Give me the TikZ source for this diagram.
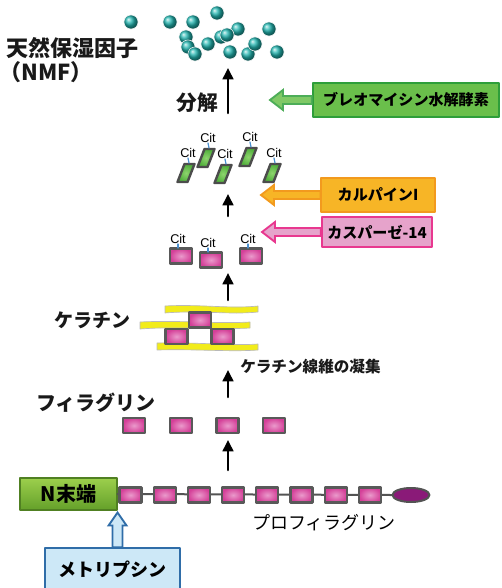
\documentclass[tikz,border=0pt]{standalone}
\usepackage{fontspec}
\setmainfont{Noto Sans CJK JP}
\newfontfamily\citfont{Liberation Sans}
\usetikzlibrary{arrows.meta,calc,shapes.geometric}

\definecolor{nmfteal}{HTML}{22B5B0}
\definecolor{sqout}{HTML}{D43F98}
\definecolor{sqin}{HTML}{EA9ACB}
\definecolor{chipgreen}{HTML}{4FAE3A}
\definecolor{chiplight}{HTML}{8ED46E}
\definecolor{blfill}{HTML}{6ABF4B}
\definecolor{bldraw}{HTML}{2E9E3A}
\definecolor{calfill}{HTML}{F7B526}
\definecolor{caldraw}{HTML}{F29A1E}
\definecolor{casfill}{HTML}{E6A3CB}
\definecolor{casdraw}{HTML}{E8388F}
\definecolor{ntop}{HTML}{9CCF4C}
\definecolor{nbot}{HTML}{64A02A}
\definecolor{mepfill}{HTML}{CDE8F7}
\definecolor{mepdraw}{HTML}{2F6DA8}
\definecolor{tailpurple}{HTML}{8A1A78}
\definecolor{kyellow}{HTML}{F2EC1A}
\definecolor{citblue}{HTML}{4A90D0}

% hollow arrow pointing left from a box to a tip coordinate
\newcommand{\blockarrow}[4]{%
  \filldraw[draw=#3, fill=#4, line width=1.4pt, line join=miter]
    (#1) -- ++(13,-10) -- ++(0,6) -- ($(#2.west)+(0,-4)$)
    -- ($(#2.west)+(0,4)$) -- ($(#1)+(13,4)$) -- ++(0,6) -- cycle;}

\begin{document}
\begin{tikzpicture}[x=0.75pt, y=-0.75pt, line join=round, line cap=round,
    >={Triangle[length=8.5pt,width=8pt]},
    stage/.style={->, line width=1.9pt, black},
    lbl/.style={inner sep=0pt, text=black!90, font=\bfseries\fontsize{#1}{#1}\selectfont},
    lbl/.default=15pt,
    enzyme/.style={rectangle, line width=1.3pt, inner sep=0pt, minimum height=25.5pt,
      font=\bfseries\fontsize{11.3pt}{12pt}\selectfont},
    sq/.style={rectangle, draw=gray!70!black, line width=1.6pt, inner sep=0pt,
      inner color=sqin, outer color=sqout, minimum width=16.5pt, minimum height=11.25pt},
    chip/.style={draw=gray!60!black, line width=1.8pt, inner color=chiplight, outer color=chipgreen},
    cit/.style={inner sep=0pt, font=\citfont\fontsize{9.5pt}{10pt}\selectfont},
    citlink/.style={citblue, line width=0.9pt},
    kbar/.style={draw=gray!55, line width=0.5pt, fill=kyellow},
    chain/.style={draw=gray!65!black, line width=1.5pt}]
\useasboundingbox (0,0) rectangle (502,588);

% NMF: free amino acids
\foreach \x/\y in {131/22,170/22,193/22,217/13,238/29,269/29,186/37,188/47,
                   195/54,208/44,221/37,227/35,230/52,248/54,255/44,277/52}
  \shadedraw[ball color=nmfteal, draw=white, line width=0.4pt] (\x,\y) circle (5.3pt);
\node[lbl=16.5pt, anchor=west] (nmf) at (6,48) {天然保湿因子};
\node[lbl=16.5pt, anchor=west] (nmfabbr) at (-1,72) {（NMF）};

% degradation step
\coordinate (deg-from) at (228,113);
\coordinate (deg-to) at (228,68);
\draw[stage] (deg-from) -- (deg-to);
\node[lbl=15.5pt] (deg) at (197,103) {分解};

\node[enzyme, draw=bldraw, fill=blfill, minimum width=140pt] (blh) at (406,100) {ブレオマイシン水解酵素};
\coordinate (bl-tip) at (270,100);
\blockarrow{bl-tip}{blh}{bldraw!85}{blfill!85!white}

% citrullinated fragments
\foreach \x/\y [count=\i] in {186/173,206/158,223/174,248/157,272/173} {
  \shadedraw[chip] (\x,\y) +(-1.5,-9) -- +(8.5,-9) -- +(1.5,9) -- +(-8.5,9) -- cycle;
  \node[cit, anchor=south] (gc\i) at (\x+2,\y-15) {Cit};
  \draw[citlink] (gc\i.south) -- (\x+3,\y-10);
}

\coordinate (cal-from) at (228,216);
\coordinate (cal-to) at (228,194);
\draw[stage] (cal-from) -- (cal-to);

\node[enzyme, draw=caldraw, fill=calfill, minimum width=85pt] (cal) at (378,195) {カルパインI};
\coordinate (cal-tip) at (261,195);
\blockarrow{cal-tip}{cal}{caldraw}{calfill}

\node[enzyme, draw=casdraw, fill=casfill, minimum width=83pt, minimum height=22.5pt] (cas) at (377,232) {カスパーゼ-14};
\coordinate (cas-tip) at (262,232);
\blockarrow{cas-tip}{cas}{casdraw}{casfill}

% citrullinated filaggrin
\foreach \x/\y [count=\i] in {181/256,211/260,251/256} {
  \node[sq] (pc\i) at (\x,\y) {};
  \node[cit, anchor=south] (pcit\i) at (\x-3,\y-12) {Cit};
  \draw[citlink] (pcit\i.south) -- (\x-3,\y-8);
}

\coordinate (cit-from) at (228,300);
\coordinate (cit-to) at (228,273);
\draw[stage] (cit-from) -- (cit-to);

% keratin bundle
\filldraw[kbar] (165,306) .. controls (200,304) and (230,309) .. (258,306) -- (258,312)
  .. controls (230,315) and (200,310) .. (165,313) -- cycle;
\filldraw[kbar] (140,322) .. controls (180,320) and (215,324) .. (250,322) -- (250,328)
  .. controls (215,330) and (180,326) .. (140,329) -- cycle;
\filldraw[kbar] (157,343) .. controls (200,342) and (230,346) .. (258,344) -- (258,350)
  .. controls (230,352) and (200,349) .. (157,350) -- cycle;
\node[sq] (k1) at (200,320) {};
\node[sq] (k2) at (176.5,336.5) {};
\node[sq] (k3) at (222.5,336.5) {};
\node[lbl=14.25pt] (ker) at (92,320) {ケラチン};

\coordinate (agg-from) at (228,397);
\coordinate (agg-to) at (228,370);
\draw[stage] (agg-from) -- (agg-to);
\node[lbl=11.7pt, anchor=west] (agg) at (240,367) {ケラチン線維の凝集};

% filaggrin monomers
\node[lbl=15pt] (flg) at (96,403) {フィラグリン};
\foreach \x [count=\i] in {134,181,227.5,274}
  \node[sq] (f\i) at (\x,425.5) {};

\coordinate (pro-from) at (228,470);
\coordinate (pro-to) at (228,440);
\draw[stage] (pro-from) -- (pro-to);

% profilaggrin
\node[rectangle, draw=nbot!80!black, line width=0.8pt, top color=ntop, bottom color=nbot,
  minimum width=72.75pt, minimum height=24pt, inner sep=0pt,
  font=\bfseries\fontsize{15pt}{15pt}\selectfont] (nterm) at (68.5,494) {N末端};
\node[ellipse, draw=gray!65!black, line width=1.5pt, fill=tailpurple,
  minimum width=27.75pt, minimum height=10.5pt, inner sep=0pt] (tail) at (411,495) {};
\draw[chain] (nterm.east) -- (tail.west);
\foreach \i in {0,...,7}
  \node[sq] (p\i) at (130.5+34.2*\i,495) {};
\node[inner sep=0pt, font=\fontsize{13.5pt}{14pt}\selectfont] (prof) at (324,523) {プロフィラグリン};

% meprin cleaves the N-terminus
\node[rectangle, draw=mepdraw, fill=mepfill, line width=1.2pt, minimum width=101pt,
  minimum height=31.5pt, inner sep=0pt, font=\bfseries\fontsize{13.5pt}{14pt}\selectfont]
  (mep) at (112.5,569) {メトリプシン};
\coordinate (mep-tip) at ($(nterm.south east)+(0,2)$);
\filldraw[draw=mepdraw, fill=mepfill, line width=1.4pt, line join=miter]
  (mep-tip) -- ++(9,13) -- ++(-4,0) -- ($(mep-tip |- mep.north)+(5,0)$)
  -- ($(mep-tip |- mep.north)+(-5,0)$) -- ($(mep-tip)+(-5,13)$) -- ++(-4,0) -- cycle;
\end{tikzpicture}
\end{document}
